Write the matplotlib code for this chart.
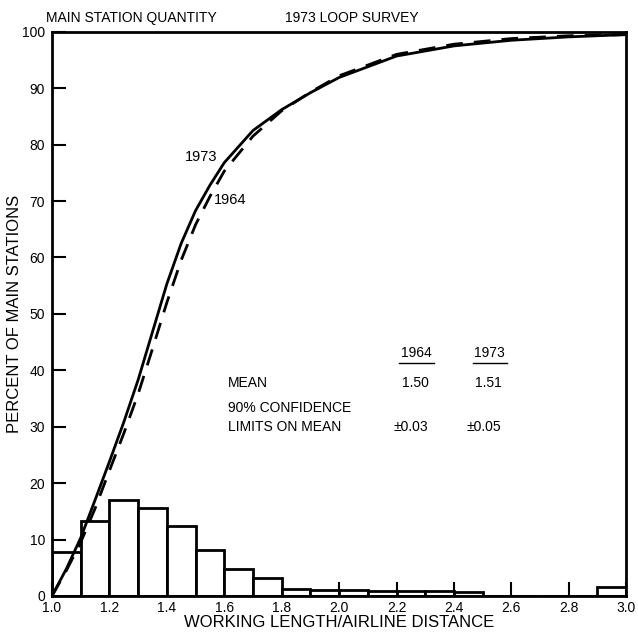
import matplotlib
matplotlib.use("Agg")
import matplotlib.pyplot as plt

plt.rcParams['font.family'] = ['Liberation Sans', 'DejaVu Sans']

# histogram of 1973 survey, bins of width 0.1 starting at 1.0
bin_left = [1.0, 1.1, 1.2, 1.3, 1.4, 1.5, 1.6, 1.7, 1.8, 1.9,
            2.0, 2.1, 2.2, 2.3, 2.4, 2.5, 2.6, 2.7, 2.8, 2.9]
bin_pct = [7.8, 13.2, 17.0, 15.6, 12.4, 8.1, 4.8, 3.1, 1.2, 1.0,
           1.0, 0.9, 0.8, 0.8, 0.7, 0.0, 0.0, 0.0, 0.0, 1.5]

# cumulative curves
cum_x = [1.0, 1.05, 1.1, 1.15, 1.2, 1.25, 1.3, 1.35, 1.4, 1.45, 1.5,
         1.55, 1.6, 1.7, 1.8, 1.9, 2.0, 2.2, 2.4, 2.6, 2.8, 3.0]
cum_1973 = [0, 4.8, 10.3, 17, 23.8, 30.8, 38.3, 46.8, 55.3, 62.5, 68.3,
            72.8, 76.8, 82.5, 86.2, 89.2, 91.9, 95.7, 97.5, 98.5, 99.1, 99.5]
cum_1964 = [0, 4.5, 9.5, 15.5, 22.2, 28.8, 35.8, 43.8, 52, 59.5, 65.8,
            70.8, 75.3, 81.5, 86, 89.3, 92.2, 96, 97.8, 98.8, 99.3, 99.5]

years = ["1964", "1973"]
means = ["1.50", "1.51"]
limits = ["\u00b10.03", "\u00b10.05"]

fig = plt.figure(figsize=(6.38, 6.36), dpi=100)
ax = fig.add_axes([0.0815, 0.063, 0.9, 0.887])

ax.bar(bin_left, bin_pct, width=0.1, align='edge', color='white',
       edgecolor='black', linewidth=2, zorder=2)
ax.plot(cum_x, cum_1973, color='black', linewidth=2, zorder=3)
ax.plot(cum_x, cum_1964, color='black', linewidth=2, dashes=(6, 4), zorder=3)

ax.set_xlim(1.0, 3.0)
ax.set_ylim(0, 100)
ax.set_xticks([1.0 + 0.2 * i for i in range(11)])
ax.set_xticklabels(["%.1f" % (1.0 + 0.2 * i) for i in range(11)])
ax.set_yticks(range(0, 101, 10))
ax.tick_params(direction='in', length=10, width=1.5, labelsize=10)
ax.tick_params(axis='x', pad=4)
ax.tick_params(axis='y', pad=5)
for s in ax.spines.values():
    s.set_linewidth(2)

ax.set_xlabel("WORKING LENGTH/AIRLINE DISTANCE", fontsize=12, labelpad=0)
ax.set_ylabel("PERCENT OF MAIN STATIONS", fontsize=12, labelpad=0)

fig.text(0.072, 0.965, "MAIN STATION QUANTITY", fontsize=10)
fig.text(0.447, 0.965, "1973 LOOP SURVEY", fontsize=10)

# curve labels
ax.text(1.52, 77.8, "1973", fontsize=10.5, ha='center', va='center')
ax.text(1.62, 70.2, "1964", fontsize=10.5, ha='center', va='center')

# table of means
col_x = [2.27, 2.525]
for cx, yr, m, lim in zip(col_x, years, means, limits):
    ax.text(cx, 43.1, yr, fontsize=10, ha='center', va='center')
    ax.plot([cx - 0.06, cx + 0.06], [41.3, 41.3], color='black', linewidth=1)
    ax.text(cx - 0.005, 37.8, m, fontsize=10, ha='center', va='center')
    ax.text(cx - 0.02, 30.0, lim, fontsize=10, ha='center', va='center')
ax.text(1.613, 37.8, "MEAN", fontsize=10, va='center')
ax.text(1.613, 33.4, "90% CONFIDENCE", fontsize=10, va='center')
ax.text(1.613, 30.0, "LIMITS ON MEAN", fontsize=10, va='center')

fig.savefig("out.png", dpi=100)
